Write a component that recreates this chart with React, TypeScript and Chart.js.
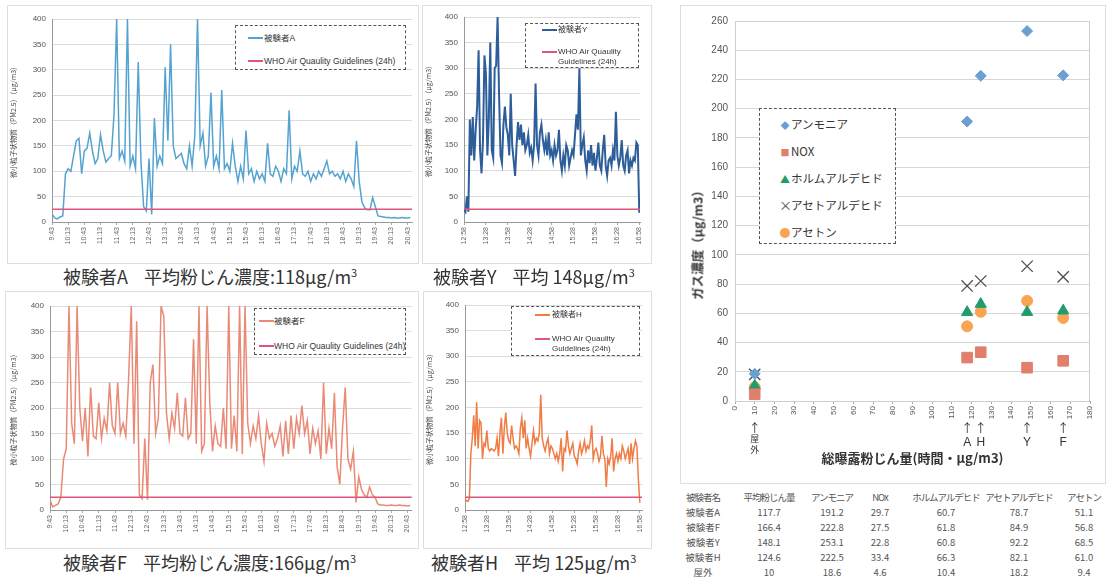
import React, { useEffect, useRef } from "react";
import { Chart, registerables } from "chart.js";
Chart.register(...registerables);

const LATIN = "'Liberation Sans', 'Noto Sans CJK JP', sans-serif";
const JP = "'Noto Sans CJK JP', 'Noto Sans', sans-serif";

// ---------------- time series data (PM2.5, μg/m3) ----------------
const stepAF = 5; // minutes between readings, 9:43 start
const timeTicksAF = ["9:43","10:13","10:43","11:13","11:43","12:13","12:43","13:13","13:43","14:13","14:43","15:13","15:43","16:13","16:43","17:13","17:43","18:13","18:43","19:13","19:43","20:13","20:43"];
const subjectA = [
  16, 8, 6, 10, 12, 95, 105, 100, 130, 160,
  165, 95, 140, 145, 175, 140, 115, 125, 172, 140,
  118, 125, 130, 210, 400, 125, 140, 120, 400, 110,
  130, 105, 315, 120, 30, 22, 125, 15, 205, 110,
  130, 115, 305, 160, 350, 150, 125, 130, 135, 115,
  105, 150, 110, 170, 400, 150, 175, 110, 130, 255,
  110, 130, 105, 260, 105, 115, 100, 155, 110, 80,
  110, 85, 180, 95, 105, 80, 100, 85, 95, 80,
  155, 95, 90, 110, 100, 80, 105, 95, 220, 85,
  110, 100, 140, 95, 90, 100, 80, 95, 85, 100,
  90, 105, 120, 95, 100, 90, 95, 85, 100, 80,
  95, 85, 70, 160, 80, 40, 28, 24, 24, 48,
  30, 12, 11, 10, 9, 9, 8, 9, 8, 8,
  9, 8, 8, 9,
];
const subjectF = [
  20, 6, 9, 12, 25, 100, 120, 400, 170, 130,
  400, 200, 135, 200, 105, 240, 145, 140, 210, 140,
  180, 155, 250, 165, 150, 250, 150, 170, 145, 255,
  400, 130, 370, 30, 22, 140, 20, 250, 285, 150,
  180, 400, 380, 190, 140, 190, 160, 230, 150, 145,
  220, 140, 150, 335, 130, 400, 115, 130, 400, 210,
  115, 165, 130, 125, 200, 120, 400, 120, 185, 115,
  400, 110, 400, 170, 130, 165, 140, 185, 130, 95,
  170, 140, 150, 125, 140, 165, 105, 175, 110, 185,
  120, 180, 150, 205, 150, 175, 110, 160, 130, 155,
  100, 250, 110, 160, 120, 230, 85, 50, 160, 240,
  100, 80, 115, 15, 65, 40, 30, 25, 45, 30,
  25, 12, 10, 10, 9, 9, 10, 9, 9, 10,
  9, 9, 8, 9,
];

const stepYH = 2; // minutes between readings, 12:58 start
const timeTicksYH = ["12:58","13:28","13:58","14:28","14:58","15:28","15:58","16:28","16:58"];
const subjectY = [
  25, 20, 50, 20, 200, 130, 205, 120, 180, 225,
  335, 140, 95, 160, 325, 290, 130, 200, 350, 140,
  125, 300, 305, 400, 250, 130, 115, 190, 225, 185,
  170, 130, 250, 150, 120, 90, 150, 195, 160, 190,
  150, 175, 140, 150, 170, 135, 145, 120, 150, 270,
  150, 130, 175, 190, 160, 140, 160, 130, 175, 130,
  140, 120, 150, 130, 140, 180, 120, 100, 130, 110,
  150, 140, 110, 125, 140, 130, 170, 210, 180, 300,
  130, 150, 165, 120, 100, 140, 115, 150, 110, 135,
  100, 125, 155, 110, 100, 140, 170, 110, 90, 120,
  125, 110, 140, 120, 215, 130, 110, 125, 160, 110,
  100, 130, 140, 95, 120, 110, 125, 120, 155, 150,
  18,
];
const subjectH = [
  22, 18, 17, 22, 110, 140, 185, 125, 210, 120,
  175, 170, 100, 130, 125, 155, 120, 115, 120, 118,
  115, 120, 140, 105, 150, 180, 110, 160, 190, 150,
  135, 130, 165, 140, 120, 125, 120, 110, 160, 180,
  140, 175, 120, 140, 120, 105, 130, 155, 130, 140,
  135, 150, 225, 140, 125, 115, 130, 140, 110, 125,
  120, 110, 100, 110, 95, 110, 140, 75, 120, 115,
  155, 125, 110, 120, 130, 105, 100, 90, 115, 130,
  110, 120, 135, 115, 125, 120, 135, 165, 100, 115,
  120, 110, 95, 105, 145, 110, 100, 45, 100, 90,
  105, 140, 75, 100, 110, 95, 110, 100, 125, 115,
  100, 110, 120, 90, 130, 100, 120, 135, 125, 60,
  14,
];
const whoGuideline = 25;
const whoLabel = "WHO Air Quaulity Guidelines (24h)";
const pmAxisTitle = "微小粒子状物質（PM2.5）（μg/m3）";

// ---------------- gas / exposure table ----------------
const tableHeaders = ["被験者名", "平均粉じん量", "アンモニア", "NOx", "ホルムアルデヒド", "アセトアルデヒド", "アセトン"];
const subjectNames = ["被験者A", "被験者F", "被験者Y", "被験者H", "屋外"];
const subjectMarks = ["A", "F", "Y", "H", "屋外"];
const avgDust = [117.7, 166.4, 148.1, 124.6, 10];
const ammonia = [191.2, 222.8, 253.1, 222.5, 18.6];
const nox = [29.7, 27.5, 22.8, 33.4, 4.6];
const formaldehyde = [60.7, 61.8, 60.8, 66.3, 10.4];
const acetaldehyde = [78.7, 84.9, 92.2, 82.1, 18.2];
const acetone = [51.1, 56.8, 68.5, 61.0, 9.4];
const gasLegend = ["アンモニア", "NOX", "ホルムアルデヒド", "アセトアルデヒド", "アセトン"];

const C = {
  A: "#55A3D1",
  Y: "#2D5E9A",
  F: "#E98A76",
  H: "#F07C45",
  WHO: "#E0557A",
  ammonia: "#6A9FD2",
  nox: "#E0806C",
  form: "#1F9C6C",
  acet: "#4d4d4d",
  acetone: "#F7A552",
};

type LineProps = {
  left: number; top: number; width: number; height: number;
  values: number[]; step: number; max: number; ticks: string[];
  color: string; lw: number; padTop: number; padRight: number;
  yWidth: number; xHeight: number; titlePad: number;
};

function LinePanel(p: LineProps) {
  const ref = useRef<HTMLCanvasElement>(null);
  useEffect(() => {
    if (!ref.current) return;
    const series = p.values.map((v, i) => ({ x: i * p.step, y: v }));
    const who = [{ x: 0, y: whoGuideline }, { x: p.max, y: whoGuideline }];
    const chart = new Chart(ref.current, {
      type: "line",
      data: {
        datasets: [
          { data: who, borderColor: C.WHO, borderWidth: 1.6, pointRadius: 0, order: 0 },
          { data: series, borderColor: p.color, borderWidth: p.lw, pointRadius: 0, tension: 0, order: 1 },
        ],
      },
      options: {
        animation: false,
        responsive: false,
        layout: { padding: { top: p.padTop, right: p.padRight, left: 0, bottom: 0 } },
        plugins: { legend: { display: false }, tooltip: { enabled: false } },
        scales: {
          x: {
            type: "linear",
            min: 0,
            max: p.max,
            ticks: {
              stepSize: 30,
              includeBounds: false,
              autoSkip: false,
              maxRotation: 90,
              minRotation: 90,
              padding: 2,
              color: "#666",
              font: { size: 7, family: LATIN },
              callback: (v: any) => p.ticks[Math.round(Number(v) / 30)] ?? "",
            },
            grid: { drawOnChartArea: false, tickLength: 3, color: "#aaa" },
            border: { color: "#999" },
            afterFit: (s: any) => { s.height = p.xHeight; },
          },
          y: {
            min: 0,
            max: 400,
            ticks: { stepSize: 50, padding: 6, color: "#555", font: { size: 8, family: LATIN } },
            grid: { color: "#dcdcdc", drawTicks: false },
            border: { color: "#999" },
            title: { display: true, text: pmAxisTitle, color: "#444", font: { size: 7, family: JP }, padding: { top: p.titlePad, bottom: 0 } },
            afterFit: (s: any) => { s.width = p.yWidth; },
          },
        },
      },
    } as any);
    return () => chart.destroy();
  }, []);
  return (
    <div style={{ position: "absolute", left: p.left, top: p.top, width: p.width, height: p.height }}>
      <canvas ref={ref} width={p.width} height={p.height} style={{ display: "block", width: p.width, height: p.height }} />
    </div>
  );
}

const framePlugin = {
  id: "frame",
  beforeDatasetsDraw(chart: any) {
    const { ctx, chartArea: a } = chart;
    ctx.save();
    ctx.strokeStyle = "#cfcfcf";
    ctx.lineWidth = 1;
    ctx.strokeRect(Math.round(a.left) + 0.5, Math.round(a.top) + 0.5, Math.round(a.width) - 1, Math.round(a.height));
    ctx.restore();
  },
};

const markPlugin = {
  id: "marks",
  afterDraw(chart: any) {
    const { ctx } = chart;
    const xs = chart.scales.x;
    const base = chart.chartArea.bottom;
    ctx.save();
    ctx.fillStyle = "#333";
    ctx.textAlign = "center";
    ctx.textBaseline = "middle";
    subjectMarks.forEach((m, i) => {
      const px = xs.getPixelForValue(avgDust[i]);
      ctx.font = `12px ${JP}`;
      ctx.fillText("↑", px, base + 27);
      if (m.length > 1) {
        ctx.font = `9px ${JP}`;
        Array.from(m).forEach((ch, k) => ctx.fillText(ch, px, base + 38 + k * 11));
      } else {
        ctx.font = `12px ${LATIN}`;
        ctx.fillText(m, px, base + 42);
      }
    });
    ctx.restore();
  },
};

function GasScatter() {
  const ref = useRef<HTMLCanvasElement>(null);
  useEffect(() => {
    if (!ref.current) return;
    const pts = (ys: number[]) => avgDust.map((x, i) => ({ x, y: ys[i] }));
    const chart = new Chart(ref.current, {
      type: "scatter",
      data: {
        datasets: [
          { label: gasLegend[0], data: pts(ammonia), pointStyle: "rectRot", pointRadius: 5.5, backgroundColor: C.ammonia, borderColor: C.ammonia },
          { label: gasLegend[1], data: pts(nox), pointStyle: "rect", pointRadius: 7.5, backgroundColor: C.nox, borderColor: C.nox },
          { label: gasLegend[2], data: pts(formaldehyde), pointStyle: "triangle", pointRadius: 6.5, backgroundColor: C.form, borderColor: C.form },
          { label: gasLegend[3], data: pts(acetaldehyde), pointStyle: "crossRot", pointRadius: 8, borderWidth: 1.3, backgroundColor: C.acet, borderColor: C.acet },
          { label: gasLegend[4], data: pts(acetone), pointStyle: "circle", pointRadius: 5.5, backgroundColor: C.acetone, borderColor: C.acetone },
        ],
      },
      options: {
        animation: false,
        responsive: false,
        layout: { padding: { top: 16, right: 17, left: 0, bottom: 0 } },
        plugins: { legend: { display: false }, tooltip: { enabled: false } },
        scales: {
          x: {
            type: "linear",
            min: 0,
            max: 180,
            ticks: { stepSize: 10, maxRotation: 90, minRotation: 90, autoSkip: false, padding: 2, color: "#555", font: { size: 8, family: LATIN } },
            grid: { drawOnChartArea: false, tickLength: 3, color: "#aaa" },
            border: { color: "#999" },
            title: { display: true, text: "総曝露粉じん量(時間・μg/m3)", color: "#333", font: { size: 13, weight: "bold", family: JP }, padding: { top: 17, bottom: 17 } },
            afterFit: (s: any) => { s.height = 82; },
          },
          y: {
            min: 0,
            max: 260,
            ticks: { stepSize: 20, padding: 7, color: "#555", font: { size: 10, family: LATIN } },
            grid: { color: "#d6d6d6", drawTicks: false },
            border: { color: "#999" },
            afterFit: (s: any) => { s.width = 55; },
          },
        },
      },
      plugins: [framePlugin, markPlugin],
    } as any);
    return () => chart.destroy();
  }, []);
  return (
    <div style={{ position: "absolute", left: 680, top: 5, width: 427, height: 478 }}>
      <canvas ref={ref} width={427} height={478} style={{ display: "block", width: 427, height: 478 }} />
    </div>
  );
}

type Entry = { y: number; sx: number; tx: number; color: string; lines: string[] };
function LineLegend({ box, entries, fs }: { box: number[]; entries: Entry[]; fs: number }) {
  const lh = Math.round(fs * 1.3);
  return (
    <div style={{ position: "absolute", left: box[0], top: box[1], width: box[2], height: box[3], border: "1px dashed #555", boxSizing: "border-box", background: "#fff" }}>
      {entries.map((e, i) => (
        <React.Fragment key={i}>
          <div style={{ position: "absolute", left: e.sx, top: e.y - 1, width: 15, height: 2, background: e.color }} />
          <div style={{ position: "absolute", left: e.tx, top: e.y - lh / 2, fontSize: fs, lineHeight: `${lh}px`, color: "#333", whiteSpace: "nowrap", fontFamily: LATIN }}>
            {e.lines.map((l, k) => <div key={k}>{l}</div>)}
          </div>
        </React.Fragment>
      ))}
    </div>
  );
}

function Caption({ left, top, head, tail }: { left: number; top: number; head: string; tail: string }) {
  return (
    <div style={{ position: "absolute", left, top, fontSize: 18, lineHeight: "22px", color: "#333", whiteSpace: "nowrap", fontFamily: JP }}>
      {head}
      <span style={{ display: "inline-block", width: 16 }} />
      {tail}μg/m<sup style={{ fontSize: 11, verticalAlign: "7px", lineHeight: 0 }}>3</sup>
    </div>
  );
}

const frameStyle = (l: number, t: number, w: number, h: number): React.CSSProperties => ({
  position: "absolute", left: l, top: t, width: w, height: h, border: "1px solid #dedede", boxSizing: "border-box",
});

export default function App() {
  const markers = [
    { ch: "◆", color: C.ammonia, size: 9 },
    { ch: "■", color: C.nox, size: 9 },
    { ch: "▲", color: C.form, size: 10 },
    { ch: "×", color: C.acet, size: 13 },
    { ch: "●", color: C.acetone, size: 11 },
  ];
  const cols = [703, 769, 832, 880, 946, 1019, 1084];
  const rows: string[][] = [
    tableHeaders,
    ...subjectNames.map((n, i) => [
      n, String(avgDust[i]), ammonia[i].toFixed(1), nox[i].toFixed(1),
      formaldehyde[i].toFixed(1), acetaldehyde[i].toFixed(1), acetone[i].toFixed(1),
    ]),
  ];
  return (
    <div style={{ position: "absolute", left: 0, top: 0, width: 1107, height: 582, background: "#fff", overflow: "hidden", fontFamily: JP }}>
      <div style={frameStyle(7, 5, 412, 259)} />
      <div style={frameStyle(422, 5, 230, 259)} />
      <div style={frameStyle(5, 291, 414, 258)} />
      <div style={frameStyle(423, 291, 229, 258)} />
      <div style={frameStyle(680, 5, 426, 479)} />

      <LinePanel left={8} top={5} width={411} height={258} values={subjectA} step={stepAF} max={668} ticks={timeTicksAF}
        color={C.A} lw={1.5} padTop={14} padRight={7} yWidth={44} xHeight={41} titlePad={1} />
      <LinePanel left={423} top={5} width={228} height={258} values={subjectY} step={stepYH} max={241} ticks={timeTicksYH}
        color={C.Y} lw={2} padTop={12} padRight={11} yWidth={41} xHeight={41} titlePad={1} />
      <LinePanel left={6} top={292} width={412} height={256} values={subjectF} step={stepAF} max={668} ticks={timeTicksAF}
        color={C.F} lw={1.5} padTop={14} padRight={6} yWidth={44} xHeight={38} titlePad={3} />
      <LinePanel left={424} top={292} width={227} height={256} values={subjectH} step={stepYH} max={243} ticks={timeTicksYH}
        color={C.H} lw={1.5} padTop={13} padRight={9} yWidth={41} xHeight={38} titlePad={1} />

      <LineLegend box={[235, 25, 171, 45]} fs={8.5} entries={[
        { y: 12, sx: 12, tx: 28, color: C.A, lines: ["被験者A"] },
        { y: 35, sx: 12, tx: 28, color: C.WHO, lines: [whoLabel] },
      ]} />
      <LineLegend box={[525, 23, 114, 45]} fs={8} entries={[
        { y: 6, sx: 16, tx: 32, color: C.Y, lines: ["被験者Y"] },
        { y: 28, sx: 16, tx: 32, color: C.WHO, lines: ["WHO Air Quaulity", "Guidelines (24h)"] },
      ]} />
      <LineLegend box={[254, 308, 152, 47]} fs={8.5} entries={[
        { y: 12, sx: 4, tx: 19, color: C.F, lines: ["被験者F"] },
        { y: 37, sx: 4, tx: 19, color: C.WHO, lines: [whoLabel] },
      ]} />
      <LineLegend box={[511, 306, 129, 50]} fs={8} entries={[
        { y: 8, sx: 23, tx: 40, color: C.H, lines: ["被験者H"] },
        { y: 32, sx: 23, tx: 40, color: C.WHO, lines: ["WHO Air Quaulity", "Guidelines (24h)"] },
      ]} />

      <Caption left={63} top={265} head="被験者A" tail="平均粉じん濃度:118" />
      <Caption left={433} top={265} head="被験者Y" tail="平均 148" />
      <Caption left={63} top={551} head="被験者F" tail="平均粉じん濃度:166" />
      <Caption left={431} top={551} head="被験者H" tail="平均 125" />

      <GasScatter />

      <div style={{ position: "absolute", left: 697, top: 242, transform: "translate(-50%, -50%) rotate(-90deg)", whiteSpace: "nowrap", fontSize: 12.5, fontWeight: "bold", color: "#333", fontFamily: JP }}>
        ガス濃度（μg/m3）
      </div>

      <div style={{ position: "absolute", left: 759, top: 108, width: 137, height: 136, border: "1px dashed #555", boxSizing: "border-box", background: "#fff" }}>
        {gasLegend.map((g, i) => (
          <div key={i} style={{ position: "absolute", left: 19, top: 15 + i * 27 - 10, height: 20, lineHeight: "20px", whiteSpace: "nowrap", fontSize: 11.5, color: "#333", fontFamily: JP }}>
            <span style={{ display: "inline-block", width: 12, textAlign: "center", color: markers[i].color, fontSize: markers[i].size }}>{markers[i].ch}</span>
            {g}
          </div>
        ))}
      </div>

      {rows.map((r, ri) =>
        r.map((cell, ci) => (
          <div key={`${ri}-${ci}`} style={{ position: "absolute", left: cols[ci] - 50, width: 100, top: 497 + ri * 15 - 8, height: 16, lineHeight: "16px", textAlign: "center", fontSize: 9.5, letterSpacing: ri === 0 ? "-1px" : "0px", color: "#555", whiteSpace: "nowrap", fontFamily: JP }}>
            {cell}
          </div>
        ))
      )}
    </div>
  );
}
